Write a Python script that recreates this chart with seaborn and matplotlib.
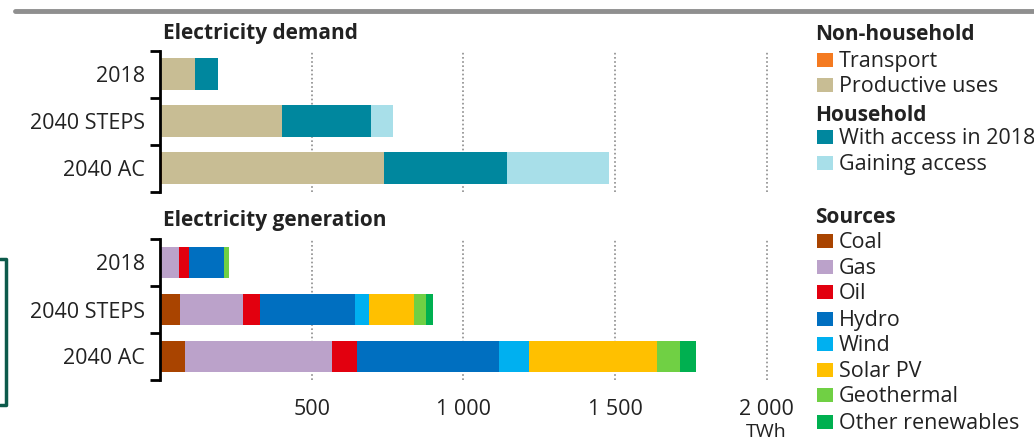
import numpy as np
import pandas as pd
import matplotlib
matplotlib.use("Agg")
import matplotlib.pyplot as plt
from matplotlib.lines import Line2D
from matplotlib.patches import Rectangle
import seaborn as sns

# ---------------- data ----------------
cases = ["2018", "2040 STEPS", "2040 AC"]

# Electricity demand (TWh)
demand_names = ["Transport", "Productive uses", "With access in 2018", "Gaining access"]
transport = [0, 0, 5]
productive_uses = [115, 403, 735]
with_access = [76, 293, 405]
gaining_access = [0, 73, 334]

# Electricity generation (TWh)
gen_names = ["Coal", "Gas", "Oil", "Hydro", "Wind", "Solar PV", "Geothermal", "Other renewables"]
coal = [0, 66, 83]
gas = [63, 208, 484]
oil = [33, 56, 84]
hydro = [115, 314, 466]
wind = [0, 46, 101]
solar_pv = [0, 148, 422]
geothermal = [17, 40, 73]
other_renewables = [0, 23, 53]

x_ticks = [500, 1000, 1500, 2000]
x_ticklabels = ["500", "1 000", "1 500", "2 000"]

demand_colors = ["#f47a20", "#c8bd94", "#00879e", "#a8dfe9"]
gen_colors = ["#a94400", "#bba2ca", "#e2000f", "#006fc0", "#00b0f0", "#ffc000", "#70d044", "#00b050"]

# ---------------- style ----------------
sns.set_theme(style="white")
plt.rcParams["font.family"] = ["Open Sans", "DejaVu Sans"]
TXT = "#222222"
FS = 15.5
FSB = 15

W, H = 1034, 441
fig = plt.figure(figsize=(W / 100, H / 100), dpi=100)

def fx(px):
    return px / W

def fy(py):
    return 1 - py / H

x0_px = 160
scale = 0.3033  # px per TWh
xmax = 2100
ax_w = xmax * scale

ax1 = fig.add_axes([fx(x0_px), fy(191.5), fx(ax_w), 141 / H])
ax2 = fig.add_axes([fx(x0_px), fy(380), fx(ax_w), 141 / H])


def stacked(ax, series, colors):
    cum = np.cumsum(np.array(series, dtype=float), axis=0)
    for i in range(len(series) - 1, -1, -1):
        df = pd.DataFrame({"case": cases, "value": cum[i]})
        sns.barplot(data=df, x="value", y="case", orient="h", color=colors[i],
                    width=0.66, errorbar=None, linewidth=0, saturation=1, ax=ax)


stacked(ax1, [transport, productive_uses, with_access, gaining_access], demand_colors)
stacked(ax2, [coal, gas, oil, hydro, wind, solar_pv, geothermal, other_renewables], gen_colors)

for ax in (ax1, ax2):
    ax.set_xlim(0, xmax)
    ax.set_ylim(2.5, -0.5)
    ax.set_xlabel("")
    ax.set_ylabel("")
    for v in x_ticks:
        ax.axvline(v, color="#8c8c8c", linestyle=(0, (1, 1.5)), linewidth=1.2, zorder=0)
    for s in ["top", "right", "bottom"]:
        ax.spines[s].set_visible(False)
    ax.spines["left"].set_color("black")
    ax.spines["left"].set_linewidth(2)
    ax.set_yticks([0, 1, 2])
    ax.set_yticklabels(cases)
    ax.set_yticks([-0.5, 0.5, 1.5, 2.5], minor=True)
    ax.tick_params(axis="y", which="major", length=0, pad=11, labelsize=FS, labelcolor=TXT)
    ax.tick_params(axis="y", which="minor", length=7, width=2, color="black", direction="out", left=True)
    ax.set_facecolor("none")

ax1.set_xticks([])
ax2.set_xticks(x_ticks)
ax2.set_xticklabels(x_ticklabels)
ax2.tick_params(axis="x", length=0, pad=14, labelsize=FS, labelcolor=TXT)
ax2.text(2000, -0.37, "TWh", transform=ax2.get_xaxis_transform(), ha="center", va="center",
         fontsize=14, color=TXT)

# titles
fig.text(fx(163), fy(34), "Electricity demand", fontsize=FSB, fontweight="bold", color=TXT,
         ha="left", va="center")
fig.text(fx(163), fy(220), "Electricity generation", fontsize=FSB, fontweight="bold", color=TXT,
         ha="left", va="center")

# top rule
fig.add_artist(Line2D([fx(15), fx(1034)], [fy(11), fy(11)], color="#8f8f8f", linewidth=3.5))

# left frame fragment
frame_c = "#0d5a4b"
fig.add_artist(Line2D([fx(0), fx(6), fx(6), fx(0)], [fy(259), fy(259), fy(405), fy(405)],
                      color=frame_c, linewidth=2.5))

# legend
def header(text, y):
    fig.text(fx(815), fy(y + 1), text, fontsize=FSB, fontweight="bold", color=TXT, ha="left", va="center")

def item(text, color, y):
    fig.add_artist(Rectangle((fx(817), fy(y + 7)), fx(16), 14 / H, facecolor=color,
                             edgecolor="none", transform=fig.transFigure))
    fig.text(fx(839), fy(y + 1.5), text, fontsize=FS, color=TXT, ha="left", va="center")

header("Non-household", 33)
item(demand_names[0], demand_colors[0], 60)
item(demand_names[1], demand_colors[1], 85)
header("Household", 115)
item(demand_names[2], demand_colors[2], 137)
item(demand_names[3], demand_colors[3], 163)
header("Sources", 217)
gen_y = [241, 267, 292, 319, 344, 370, 395, 422]
for n, c, y in zip(gen_names, gen_colors, gen_y):
    item(n, c, y)

fig.savefig("out.png", dpi=100)
